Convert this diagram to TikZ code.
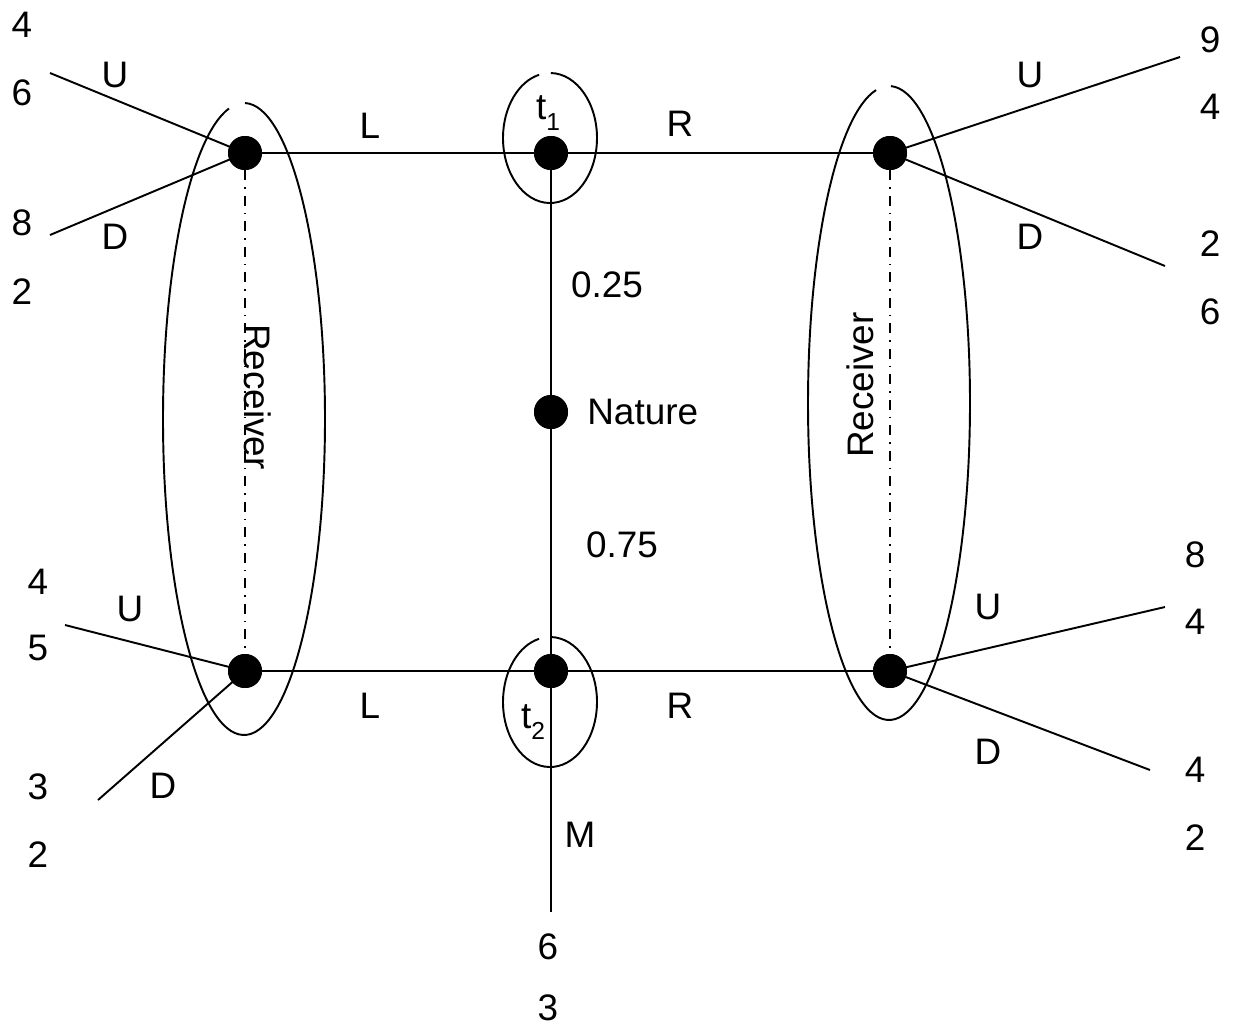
\documentclass[tikz,border=0pt]{standalone}
\usepackage{fontspec}
\setmainfont{Liberation Sans}
\begin{document}
\begin{tikzpicture}[x=0.02cm,y=-0.02cm,
  dot/.style={circle,fill=black,inner sep=0pt,minimum size=0.68cm},
  edge/.style={line width=1.1pt},
  ring/.style={line width=1.1pt},
  info/.style={line width=1.1pt,dash pattern=on 0.2cm off 0.14cm on 0.03cm off 0.14cm},
  lbl/.style={font=\fontsize{21}{24}\selectfont,inner sep=0pt}]
\useasboundingbox (0,0) rectangle (1234,1029);
% coordinates
\coordinate (tlU) at (50,73);
\coordinate (tlD) at (50,235);
\coordinate (trU) at (1180,57);
\coordinate (trD) at (1165,266);
\coordinate (blU) at (65,625);
\coordinate (blD) at (98,800);
\coordinate (brU) at (1165,607);
\coordinate (brD) at (1150,770);
\coordinate (mEnd) at (551,912);
\coordinate (e1) at (550,138);
\coordinate (e2) at (550,702);
\coordinate (eL) at (244,419);
\coordinate (eR) at (889,403);
% nodes
\node[dot] (TL) at (245,153) {};
\node[dot] (T1) at (551,153) {};
\node[dot] (TR) at (890,153) {};
\node[dot] (N) at (551,412) {};
\node[dot] (BL) at (245,671) {};
\node[dot] (T2) at (551,671) {};
\node[dot] (BR) at (890,671) {};
% edges
\draw[edge] (TL.center) -- (T1.center) -- (TR.center);
\draw[edge] (BL.center) -- (T2.center) -- (BR.center);
\draw[edge] (T1.center) -- (N.center) -- (T2.center) -- (mEnd);
\draw[edge] (tlU) -- (TL.center) -- (tlD);
\draw[edge] (trU) -- (TR.center) -- (trD);
\draw[edge] (blU) -- (BL.center) -- (blD);
\draw[edge] (brU) -- (BR.center) -- (brD);
\draw[info] (TL.south) -- (BL.north);
\draw[info] (TR.south) -- (BR.north);
% redraw dots on top
\foreach \n in {TL,T1,TR,N,BL,T2,BR} \fill (\n) circle[radius=17];
% ellipses with gaps
\draw[ring] (e1) ++(-89:47 and 65) arc[start angle=-89,end angle=256.5,x radius=47,y radius=65];
\draw[ring] (e2) ++(-89:47 and 65) arc[start angle=-89,end angle=256.5,x radius=47,y radius=65];
\draw[ring] (eL) ++(-89.3:81 and 316) arc[start angle=-89.3,end angle=259.3,x radius=81,y radius=316];
\draw[ring] (eR) ++(-88.6:81 and 317) arc[start angle=-88.6,end angle=260.8,x radius=81,y radius=317];
% labels
\node[lbl] (a1) at (22,25) {4};
\node[lbl] (a2) at (22,93) {6};
\node[lbl] (a3) at (115,75) {U};
\node[lbl] (a4) at (22,223) {8};
\node[lbl] (a5) at (115,237) {D};
\node[lbl] (a6) at (22,292) {2};
\node[lbl] (b1) at (1210,40) {9};
\node[lbl] (b2) at (1210,107) {4};
\node[lbl] (b3) at (1030,75) {U};
\node[lbl] (b4) at (1030,237) {D};
\node[lbl] (b5) at (1210,244) {2};
\node[lbl] (b6) at (1210,312) {6};
\node[lbl] (c1) at (38,582) {4};
\node[lbl] (c2) at (38,648) {5};
\node[lbl] (c3) at (130,609) {U};
\node[lbl] (c4) at (38,787) {3};
\node[lbl] (c5) at (163,786) {D};
\node[lbl] (c6) at (38,855) {2};
\node[lbl] (d1) at (1195,555) {8};
\node[lbl] (d2) at (1195,622) {4};
\node[lbl] (d3) at (988,607) {U};
\node[lbl] (d4) at (988,752) {D};
\node[lbl] (d5) at (1195,770) {4};
\node[lbl] (d6) at (1195,838) {2};
\node[lbl] (L1) at (370,126) {L};
\node[lbl] (R1) at (680,124) {R};
\node[lbl] (L2) at (370,706) {L};
\node[lbl] (R2) at (680,706) {R};
\node[lbl] (t1) at (548,113) {t\raisebox{-0.3em}{\fontsize{14}{14}\selectfont 1}};
\node[lbl] (t2) at (533,722) {t\raisebox{-0.3em}{\fontsize{14}{14}\selectfont 2}};
\node[lbl] (p1) at (607,285) {0.25};
\node[lbl,anchor=west] (nat) at (587,412) {Nature};
\node[lbl] (p2) at (622,545) {0.75};
\node[lbl] (m) at (580,835) {M};
\node[lbl] (o1) at (548,947) {6};
\node[lbl] (o2) at (548,1008) {3};
\node[lbl,rotate=-90] (rl) at (258,397) {Receiver};
\node[lbl,rotate=90] (rr) at (860,385) {Receiver};
\end{tikzpicture}
\end{document}
